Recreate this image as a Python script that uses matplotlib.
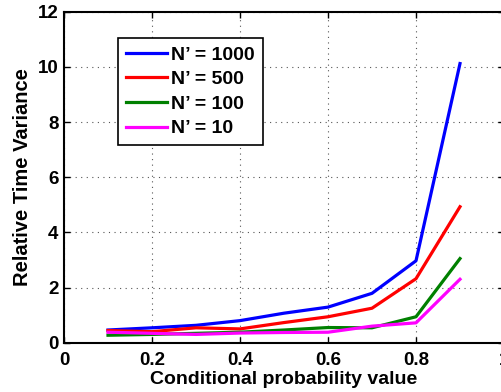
import matplotlib
matplotlib.use('Agg')
import matplotlib.pyplot as plt

plt.rcParams['font.family'] = ['Liberation Sans', 'DejaVu Sans']
plt.rcParams['font.weight'] = 'bold'

# conditional probability values
p = [0.1, 0.2, 0.3, 0.4, 0.5, 0.6, 0.7, 0.8, 0.9]
n1000 = [0.46, 0.54, 0.63, 0.80, 1.07, 1.29, 1.79, 2.97, 10.12]
n500 = [0.44, 0.40, 0.54, 0.50, 0.73, 0.94, 1.25, 2.32, 4.93]
n100 = [0.27, 0.30, 0.34, 0.38, 0.46, 0.55, 0.54, 0.94, 3.05]
n10 = [0.38, 0.34, 0.30, 0.35, 0.37, 0.38, 0.60, 0.72, 2.30]
labels = ["N\u2019 = 1000", "N\u2019 = 500", "N\u2019 = 100", "N\u2019 = 10"]

fig = plt.figure(figsize=(5.02, 3.92), dpi=100)
ax = fig.add_axes([64 / 502, 49.3 / 392, 440 / 502, 331 / 392])

ax.plot(p, n1000, color='#0000ff', lw=2.3, label=labels[0])
ax.plot(p, n500, color='#ff0000', lw=2.3, label=labels[1])
ax.plot(p, n100, color='#008000', lw=2.3, label=labels[2])
ax.plot(p, n10, color='#ff00ff', lw=2.3, label=labels[3])

ax.set_xlim(0, 1)
ax.set_ylim(0, 12)
ax.set_xticks([0, 0.2, 0.4, 0.6, 0.8, 1])
ax.set_xticklabels(['0', '0.2', '0.4', '0.6', '0.8', '1'])
ax.set_yticks([0, 2, 4, 6, 8, 10, 12])
ax.tick_params(direction='in', top=True, right=True, length=4, width=1,
               labelsize=13.5, pad=4)
ax.tick_params(axis='x', pad=7)
for t in ax.get_xticklabels() + ax.get_yticklabels():
    t.set_fontweight('bold')
for s in ax.spines.values():
    s.set_linewidth(1.5)
ax.grid(True, linestyle=(0, (1, 4)), color='#555555', linewidth=0.8)

ax.set_xlabel('Conditional probability value', fontsize=14, fontweight='bold', labelpad=1)
ax.set_ylabel('Relative Time Variance', fontsize=14.5, fontweight='bold', labelpad=4)

leg = ax.legend(loc='upper left', bbox_to_anchor=(54 / 440, 1 - 26.5 / 331),
                borderaxespad=0,
                prop={'size': 14, 'weight': 'bold'}, fancybox=False,
                framealpha=1, edgecolor='black', handlelength=2.1,
                borderpad=0.4, labelspacing=0.36, handletextpad=0.25)
leg.get_frame().set_linewidth(1.2)

fig.savefig('out.png', dpi=100)
